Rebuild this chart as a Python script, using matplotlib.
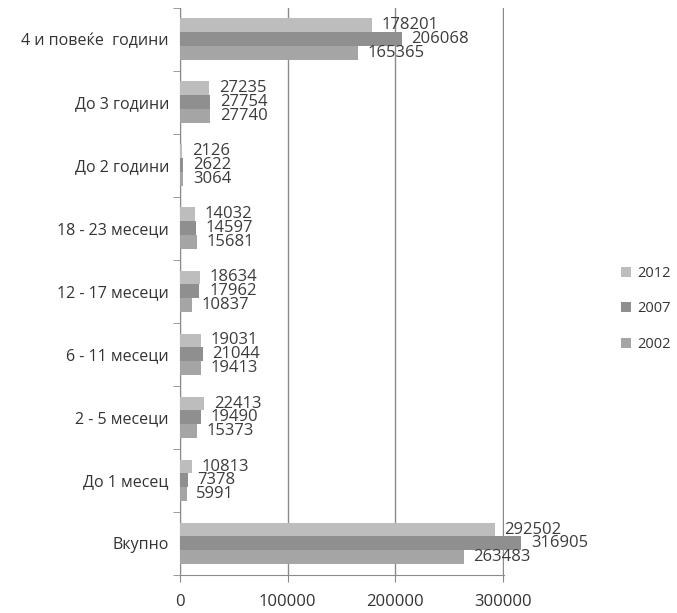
import matplotlib
matplotlib.use("Agg")
import matplotlib.pyplot as plt
import numpy as np
from matplotlib.patches import Patch

categories = ["Вкупно", "До 1 месец", "2 - 5 месеци", "6 - 11 месеци",
              "12 - 17 месеци", "18 - 23 месеци", "До 2 години",
              "До 3 години", "4 и повеќе  години"]
v2012 = [292502, 10813, 22413, 19031, 18634, 14032, 2126, 27235, 178201]
v2007 = [316905, 7378, 19490, 21044, 17962, 14597, 2622, 27754, 206068]
v2002 = [263483, 5991, 15373, 19413, 10837, 15681, 3064, 27740, 165365]
series = [("2012", v2012, "#bdbdbd"), ("2007", v2007, "#8f8f8f"), ("2002", v2002, "#a5a5a5")]
xticks = [0, 100000, 200000, 300000]

plt.rcParams["font.family"] = ["Open Sans", "DejaVu Sans"]
fig = plt.figure(figsize=(6.77, 6.13), dpi=100)
ax = fig.add_axes([0.266, 0.062, 0.4785, 0.925])

y = np.arange(len(categories))
h = 0.222
offsets = [h, 0, -h]
for (name, vals, col), off in zip(series, offsets):
    ax.barh(y + off, vals, height=h, color=col, label=name, clip_on=False, zorder=3)
    for yy, v in zip(y + off, vals):
        ax.annotate(f"{v}", xy=(v, yy), xytext=(7, 0), textcoords="offset points",
                    va="center", ha="left", fontsize=12, color="#3c3c3c",
                    zorder=4, annotation_clip=False)

ax.set_xlim(0, 301000)
ax.set_ylim(-0.5, len(categories) - 0.5)
ax.set_xticks(xticks)
ax.set_xticklabels([str(t) for t in xticks], fontsize=12, color="#333333")
ax.set_yticks(y)
ax.set_yticklabels(categories, fontsize=11.5, color="#333333")
ax.set_yticks(np.arange(-0.5, len(categories), 1), minor=True)
ax.tick_params(axis="y", which="major", length=0, pad=8)
ax.tick_params(axis="y", which="minor", length=5, color="#888888")
ax.tick_params(axis="x", length=5, color="#888888", pad=9)
ax.grid(axis="x", color="#8a8a8a", linewidth=1, zorder=0)
for s in ["top", "right"]:
    ax.spines[s].set_visible(False)
for s in ["left", "bottom"]:
    ax.spines[s].set_color("#8a8a8a")

handles = [Patch(facecolor=c, edgecolor="none", label=n) for n, _, c in series]
fig.legend(handles=handles, loc="center left", bbox_to_anchor=(0.898, 0.496),
           frameon=False, fontsize=10.5, handlelength=0.7, handleheight=0.7,
           handletextpad=0.4, labelspacing=1.4, labelcolor="#333333")

fig.savefig("out.png", dpi=100)
